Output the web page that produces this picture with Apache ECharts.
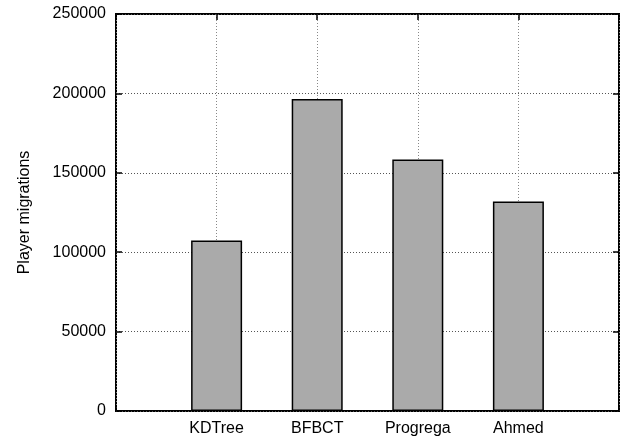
<!DOCTYPE html>
<html>
<head>
<meta charset="utf-8">
<script src="https://cdn.jsdelivr.net/npm/echarts@6/dist/echarts.min.js"></script>
<style>
html,body{margin:0;padding:0;background:#fff;}
#chart{width:625px;height:440px;}
</style>
</head>
<body>
<div id="chart"></div>
<script>
const categories = ["KDTree", "BFBCT", "Progrega", "Ahmed"];
const migrations = [107300, 196500, 158300, 132000];
const yTicks = [0, 50000, 100000, 150000, 200000, 250000];

const FONT = '"Liberation Sans", Arial, sans-serif';
const chart = echarts.init(document.getElementById('chart'), null, {renderer: 'canvas'});

const barData = categories.map((c, i) => [i + 1, migrations[i]]);

const tickStyle = {show: true, inside: true, length: 6, lineStyle: {color: '#000', width: 1.5}};

chart.setOption({
  backgroundColor: '#fff',
  animation: false,
  grid: {left: 116, right: 6, top: 14, bottom: 29, show: true, borderColor: '#000', borderWidth: 2, backgroundColor: 'transparent'},
  xAxis: [
    {
      type: 'value', gridIndex: 0, min: 0, max: categories.length + 1, interval: 1,
      position: 'bottom',
      axisLine: {show: false},
      axisTick: tickStyle,
      axisLabel: {
        show: true, margin: 10, fontFamily: FONT, fontSize: 16, color: '#000',
        formatter: v => (v >= 1 && v <= categories.length) ? categories[v - 1] : ''
      },
      splitLine: {show: true, lineStyle: {color: '#888', type: [1, 2], width: 1}}
    },
    {
      type: 'value', gridIndex: 0, min: 0, max: categories.length + 1, interval: 1,
      position: 'top',
      axisLine: {show: false, onZero: false},
      axisTick: tickStyle,
      axisLabel: {show: false},
      splitLine: {show: false}
    }
  ],
  yAxis: [
    {
      type: 'value', gridIndex: 0, min: yTicks[0], max: yTicks[yTicks.length - 1], interval: yTicks[1] - yTicks[0],
      position: 'left',
      axisLine: {show: false, onZero: false},
      axisTick: tickStyle,
      name: 'Player migrations', nameLocation: 'middle', nameGap: 83, nameRotate: 90,
      nameTextStyle: {fontFamily: FONT, fontSize: 16, color: '#000'},
      axisLabel: {show: true, margin: 10, fontFamily: FONT, fontSize: 16, color: '#000',
        formatter: v => String(v)},
      splitLine: {show: true, lineStyle: {color: '#555', type: [1, 2], width: 1}}
    },
    {
      type: 'value', gridIndex: 0, min: yTicks[0], max: yTicks[yTicks.length - 1], interval: yTicks[1] - yTicks[0],
      position: 'right',
      axisLine: {show: false, onZero: false},
      axisTick: tickStyle,
      axisLabel: {show: false},
      splitLine: {show: false}
    }
  ],
  series: [{
    type: 'bar',
    data: barData,
    barWidth: 51,
    itemStyle: {color: '#aaaaaa', borderColor: '#000', borderWidth: 1.5}
  }]
});
</script>
</body>
</html>
